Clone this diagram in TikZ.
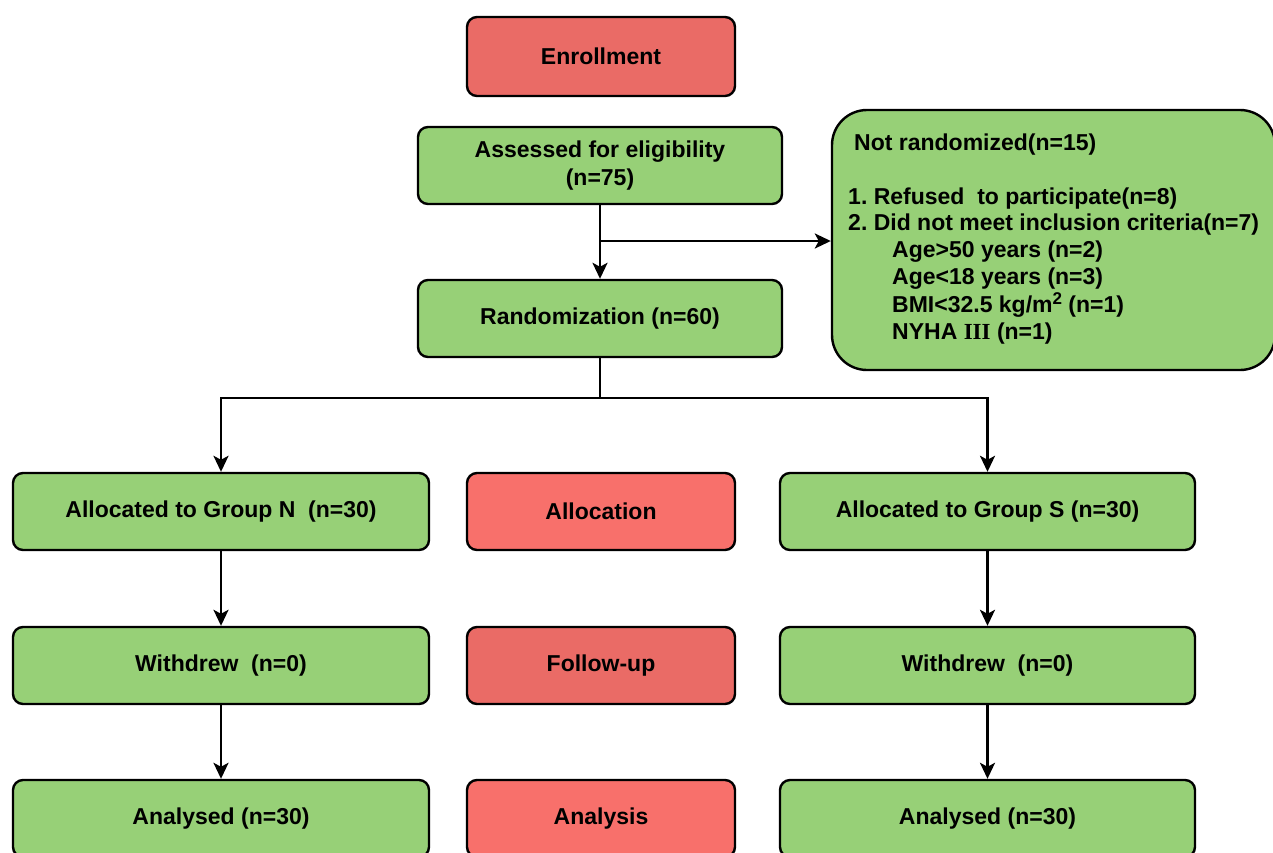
\documentclass[tikz,border=0pt]{standalone}
\usepackage{fontspec}
\setmainfont{Liberation Sans}
\newfontfamily\serifIII{Liberation Serif}
\usetikzlibrary{arrows.meta}
\definecolor{gfill}{HTML}{97D077}
\definecolor{rfill}{HTML}{EA6B66}
\definecolor{rfillb}{HTML}{F8706B}
\frenchspacing
\begin{document}
\begin{tikzpicture}[x=1pt,y=-1pt,
  box/.style={draw=black, line width=2.4pt, rounded corners=10pt, fill=gfill,
    font=\bfseries\fontsize{23}{28}\selectfont, align=center, inner sep=0pt},
  wide/.style={box, minimum width=416pt, minimum height=77pt},
  mid/.style={box, minimum width=268pt, minimum height=77pt},
  txt/.style={anchor=base west, inner sep=0pt, font=\bfseries\fontsize{23}{27}\selectfont},
  arr/.style={-{Stealth[length=16pt,width=15pt,inset=4pt]}, line width=2.6pt},
  ln/.style={line width=2.6pt}]
\useasboundingbox (0,0) rectangle (1273,852);

\node[mid, fill=rfill, minimum height=79pt] (enr) at (601,56.5) {Enrollment};
\node[box, minimum width=364pt, minimum height=77pt] (ass) at (600,165.5) {Assessed for eligibility\\(n=75)};
\node[box, minimum width=364pt, minimum height=77pt] (rand) at (600,318.5) {Randomization (n=60)};

\node[box, rounded corners=35pt, minimum width=443pt, minimum height=260pt] (nr) at (1053.5,240) {};
\node[txt] (nr0) at (854,150) {Not randomized(n=15)};
\node[txt] (nr1) at (848,204) {1. Refused\ \ to participate(n=8)};
\node[txt] (nr2) at (848,230) {2. Did not meet inclusion criteria(n=7)};
\node[txt] (nr3) at (892,257) {Age>50 years (n=2)};
\node[txt] (nr4) at (892,284) {Age<18 years (n=3)};
\node[txt] (nr5) at (892,312) {BMI<32.5 kg/m\raisebox{8pt}{\fontsize{17}{17}\selectfont 2} (n=1)};
\node[txt] (nr6) at (892,339) {NYHA {\serifIII III} (n=1)};

\node[wide] (alN) at (221,511.5) {Allocated to Group N\ \ (n=30)};
\node[mid, fill=rfillb] (alloc) at (601,511.5) {Allocation};
\node[wide, minimum width=415pt] (alS) at (987.5,511.5) {Allocated to Group S (n=30)};

\node[wide] (wN) at (221,665.5) {Withdrew\ \ (n=0)};
\node[mid, fill=rfill] (fu) at (601,665.5) {Follow-up};
\node[wide, minimum width=415pt] (wS) at (987.5,665.5) {Withdrew\ \ (n=0)};

\node[wide] (anN) at (221,818.5) {Analysed (n=30)};
\node[mid, fill=rfillb] (an) at (601,818.5) {Analysis};
\node[wide, minimum width=415pt] (anS) at (987.5,818.5) {Analysed (n=30)};

\draw[arr] (ass.south) -- (rand.north);
\coordinate (br) at (600,241);
\draw[arr] (br) -- (br -| nr.west);

\coordinate (split) at (600,398);
\draw[ln] (rand.south) -- (split);
\draw[arr] (split) -| (alN.north);
\draw[arr] (split) -| (alS.north);

\draw[arr] (alN.south) -- (wN.north);
\draw[arr] (wN.south) -- (anN.north);
\draw[arr] (alS.south) -- (wS.north);
\draw[arr] (wS.south) -- (anS.north);
\end{tikzpicture}
\end{document}
